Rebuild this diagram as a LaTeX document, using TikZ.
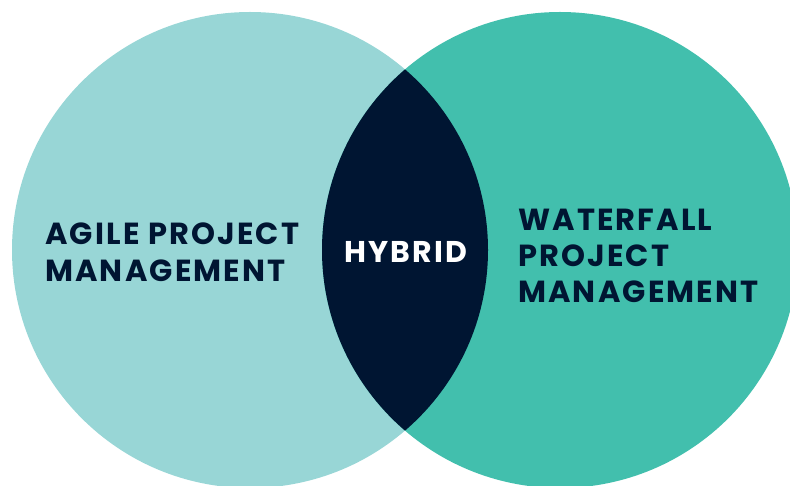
\documentclass[tikz,border=0pt]{standalone}
\usepackage{fontspec}
\setmainfont{Poppins}[LetterSpace=7]
\usepackage{tikz}
\usetikzlibrary{positioning}

\definecolor{agilecol}{HTML}{98D6D6}
\definecolor{watercol}{HTML}{42BFAD}
\definecolor{navycol}{HTML}{001532}

\begin{document}
\begin{tikzpicture}[
        x=1pt, y=-1pt,
        label/.style={inner sep=0pt, align=left, text=navycol,
            font=\fontsize{30.5}{37}\selectfont\bfseries},
        hybrid/.style={inner sep=0pt, text=white,
            font=\fontsize{30}{34}\selectfont\bfseries}
    ]
        % --- Marco ---
        \useasboundingbox (0,0) rectangle (790,486);
        \clip (0,0) rectangle (790,486);

        % --- Circulos ---
        \coordinate (A) at (250,250); % Centro izquierdo
        \coordinate (W) at (560,250); % Centro derecho
        \fill[agilecol] (A) circle[radius=238];
        \fill[watercol] (W) circle[radius=238];

        % Interseccion
        \begin{scope}
            \clip (A) circle[radius=238];
            \fill[navycol] (W) circle[radius=238];
        \end{scope}

        % --- Textos ---
        \node[label, anchor=north west] (agile) at (45,223) {AGILE PROJECT\\MANAGEMENT};
        \node[hybrid] (hyb) at (406,252) {HYBRID};
        \node[label, anchor=north west, font=\fontsize{30.5}{36}\selectfont\bfseries] (water) at (518,209)
            {WATERFALL\\PROJECT\\MANAGEMENT};
\end{tikzpicture}
\end{document}
